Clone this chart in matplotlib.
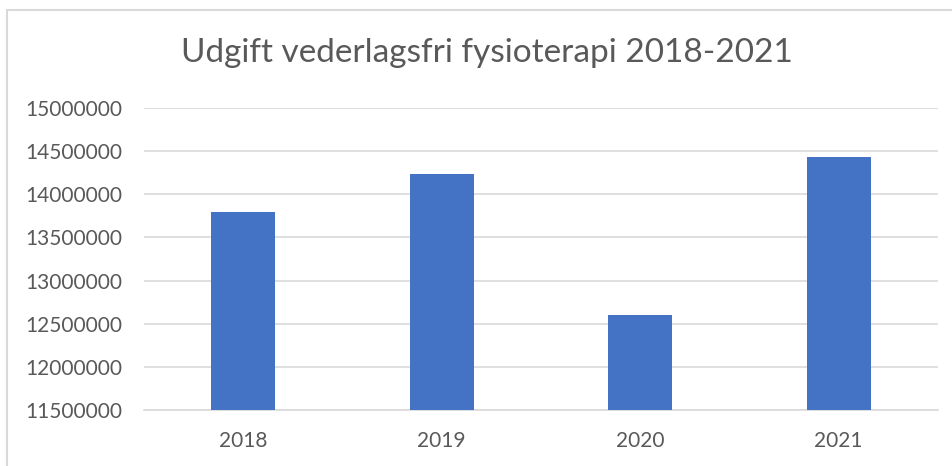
import matplotlib
matplotlib.use("Agg")
import matplotlib.pyplot as plt
from matplotlib.patches import Rectangle

years = ["2018", "2019", "2020", "2021"]
values = [13790000, 14230000, 12600000, 14430000]
yticks = [11500000, 12000000, 12500000, 13000000, 13500000, 14000000, 14500000, 15000000]
title = "Udgift vederlagsfri fysioterapi 2018-2021"

plt.rcParams['font.family'] = ['Lato', 'DejaVu Sans']

fig = plt.figure(figsize=(9.53, 4.66), dpi=100)
fig.patch.set_facecolor("white")

# chart border
fig.add_artist(Rectangle((7/953, -0.1), 1.2, (466-9.5)/466 + 0.1, transform=fig.transFigure,
                         fill=False, edgecolor="#d9d9d9", linewidth=1.5))

ax = fig.add_axes([144/953, (466-410)/466, 794/953, 302/466])
x = list(range(len(years)))
ax.bar(x, values, width=0.32, color="#4472C4", zorder=3)
ax.set_xlim(-0.5, len(years) - 0.5)
ax.set_ylim(yticks[0], yticks[-1])
ax.set_yticks(yticks)
ax.set_yticklabels([str(v) for v in yticks])
ax.set_xticks(x)
ax.set_xticklabels(years)
ax.grid(axis="y", color="#d9d9d9", linewidth=1.2, zorder=0)
for s in ["top", "right", "left"]:
    ax.spines[s].set_visible(False)
ax.spines["bottom"].set_color("#d9d9d9")
ax.spines["bottom"].set_linewidth(1.2)
ax.tick_params(axis="both", length=0, labelsize=15, colors="#595959")
ax.tick_params(axis="y", pad=16)
ax.tick_params(axis="x", pad=15)

fig.text(487/953, 1 - 53/466, title, ha="center", va="center", fontsize=24, color="#595959")

fig.savefig("out.png", dpi=100, facecolor="white")
